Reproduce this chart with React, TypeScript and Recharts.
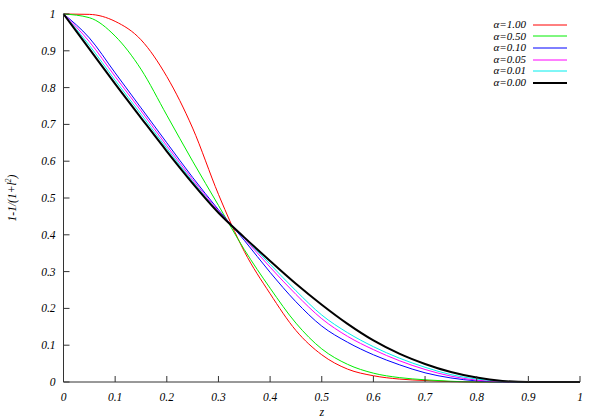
import React from 'react';
import { LineChart, Line, XAxis, YAxis, Legend } from 'recharts';

const zValues = [0, 0.05, 0.1, 0.15, 0.2, 0.25, 0.3, 0.35, 0.4, 0.45, 0.5, 0.55, 0.6, 0.65, 0.7, 0.75, 0.8, 0.85, 0.9, 0.95, 1];

const alpha100 = [1, 0.999, 0.98, 0.93, 0.83, 0.69, 0.51, 0.355, 0.24, 0.14, 0.074, 0.035, 0.017, 0.008, 0.004, 0.001, 0, 0, 0, 0, 0];
const alpha050 = [1, 0.99, 0.94, 0.85, 0.725, 0.6, 0.48, 0.36, 0.255, 0.16, 0.09, 0.048, 0.024, 0.012, 0.006, 0.002, 0, 0, 0, 0, 0];
const alpha010 = [1, 0.935, 0.84, 0.745, 0.65, 0.556, 0.468, 0.385, 0.298, 0.218, 0.152, 0.108, 0.074, 0.047, 0.025, 0.011, 0.003, 0, 0, 0, 0];
const alpha005 = [1, 0.925, 0.83, 0.737, 0.642, 0.55, 0.465, 0.39, 0.312, 0.238, 0.172, 0.124, 0.088, 0.058, 0.034, 0.016, 0.005, 0.001, 0, 0, 0];
const alpha001 = [1, 0.915, 0.82, 0.728, 0.635, 0.545, 0.462, 0.392, 0.32, 0.248, 0.182, 0.134, 0.096, 0.065, 0.04, 0.02, 0.008, 0.002, 0, 0, 0];
const alpha000 = [1, 0.905, 0.81, 0.718, 0.627, 0.54, 0.46, 0.393, 0.329, 0.267, 0.21, 0.158, 0.113, 0.077, 0.049, 0.027, 0.012, 0.003, 0, 0, 0];

const xTicks = [0, 0.1, 0.2, 0.3, 0.4, 0.5, 0.6, 0.7, 0.8, 0.9, 1];
const yTicks = [0, 0.1, 0.2, 0.3, 0.4, 0.5, 0.6, 0.7, 0.8, 0.9, 1];

const series = [
  { key: 'a100', name: 'α=1.00', color: '#ff0000', width: 1, values: alpha100 },
  { key: 'a050', name: 'α=0.50', color: '#00ee00', width: 1, values: alpha050 },
  { key: 'a010', name: 'α=0.10', color: '#0000ff', width: 1, values: alpha010 },
  { key: 'a005', name: 'α=0.05', color: '#ff00ff', width: 1, values: alpha005 },
  { key: 'a001', name: 'α=0.01', color: '#00eeee', width: 1, values: alpha001 },
  { key: 'a000', name: 'α=0.00', color: '#000000', width: 2, values: alpha000 },
];

const data = zValues.map((z, i) => {
  const row: Record<string, number> = { z };
  series.forEach((s) => { row[s.key] = s.values[i]; });
  return row;
});

const FONT = '"Liberation Serif", "DejaVu Serif", serif';
const AXIS = '#333';

// gnuplot style ticks: short marks pointing into the plot
const BottomTick = (props: any) => {
  const { x, y, payload } = props;
  return (
    <g>
      <line x1={x} y1={y} x2={x} y2={y - 6} stroke={AXIS} />
      <text x={x} y={y + 19} textAnchor="middle" fontFamily={FONT} fontStyle="italic" fontSize={11.5} fill="#000">
        {String(payload.value)}
      </text>
    </g>
  );
};

const TopTick = (props: any) => {
  const { x, y } = props;
  return <line x1={x} y1={y} x2={x} y2={y + 6} stroke={AXIS} />;
};

const LeftTick = (props: any) => {
  const { x, y, payload } = props;
  return (
    <g>
      <line x1={x} y1={y} x2={x + 6} y2={y} stroke={AXIS} />
      <text x={x - 8} y={y + 4} textAnchor="end" fontFamily={FONT} fontStyle="italic" fontSize={11.5} fill="#000">
        {String(payload.value)}
      </text>
    </g>
  );
};

const RightTick = (props: any) => {
  const { x, y } = props;
  return <line x1={x} y1={y} x2={x - 6} y2={y} stroke={AXIS} />;
};

const YLabel = (props: any) => {
  const vb = props.viewBox || { x: 0, y: 0, width: 0, height: 0 };
  const cx = vb.x + 16;
  const cy = vb.y + vb.height / 2;
  return (
    <text
      x={cx}
      y={cy}
      transform={`rotate(-90, ${cx}, ${cy})`}
      textAnchor="middle"
      fontFamily={FONT}
      fontStyle="italic"
      fontSize={11.5}
      fill="#000"
    >
      1-1/(1+l<tspan dy={-5} fontSize={8}>2</tspan><tspan dy={5}>)</tspan>
    </text>
  );
};

const renderLegend = () => (
  <div style={{ fontFamily: FONT, fontStyle: 'italic', fontSize: 10 }}>
    {series.map((s) => (
      <div key={s.key} style={{ display: 'flex', alignItems: 'center', height: 11.6, lineHeight: '11.6px' }}>
        <span style={{ width: 50, textAlign: 'right', marginRight: 7, fontSize: 11 }}>{s.name}</span>
        <svg width={34} height={6}>
          <line x1={0} y1={3} x2={34} y2={3} stroke={s.color} strokeWidth={s.width} />
        </svg>
      </div>
    ))}
  </div>
);

export default function App() {
  return (
    <div style={{ position: 'absolute', left: 0, top: 0, background: '#fff' }}>
      <LineChart width={598} height={419} data={data} margin={{ top: 14, right: 18, bottom: 0, left: 0 }}>
        <XAxis
          dataKey="z"
          type="number"
          domain={[0, 1]}
          ticks={xTicks}
          tick={<BottomTick />}
          tickLine={false}
          tickSize={0}
          tickMargin={0}
          height={37}
          axisLine={{ stroke: AXIS }}
          label={{ value: 'z', position: 'insideBottom', offset: 3, fontFamily: FONT, fontStyle: 'italic', fontSize: 12, fill: '#000' }}
        />
        <XAxis
          xAxisId="top"
          orientation="top"
          dataKey="z"
          type="number"
          domain={[0, 1]}
          ticks={xTicks}
          tick={<TopTick />}
          tickLine={false}
          tickSize={0}
          tickMargin={0}
          height={0}
          axisLine={{ stroke: AXIS }}
        />
        <YAxis
          type="number"
          domain={[0, 1]}
          ticks={yTicks}
          tick={<LeftTick />}
          tickLine={false}
          tickSize={0}
          tickMargin={0}
          width={63.5}
          axisLine={{ stroke: AXIS }}
          label={<YLabel />}
        />
        <YAxis
          yAxisId="right"
          orientation="right"
          type="number"
          domain={[0, 1]}
          ticks={yTicks}
          tick={<RightTick />}
          tickLine={false}
          tickSize={0}
          tickMargin={0}
          width={0}
          axisLine={{ stroke: AXIS }}
        />
        <Legend
          content={renderLegend}
          layout="vertical"
          align="center"
          verticalAlign="middle"
          wrapperStyle={{ top: 19, right: 31 }}
        />
        {series.map((s) => (
          <Line
            key={s.key}
            type="monotone"
            dataKey={s.key}
            name={s.name}
            stroke={s.color}
            strokeWidth={s.width}
            dot={false}
            activeDot={false}
            isAnimationActive={false}
          />
        ))}
      </LineChart>
    </div>
  );
}
